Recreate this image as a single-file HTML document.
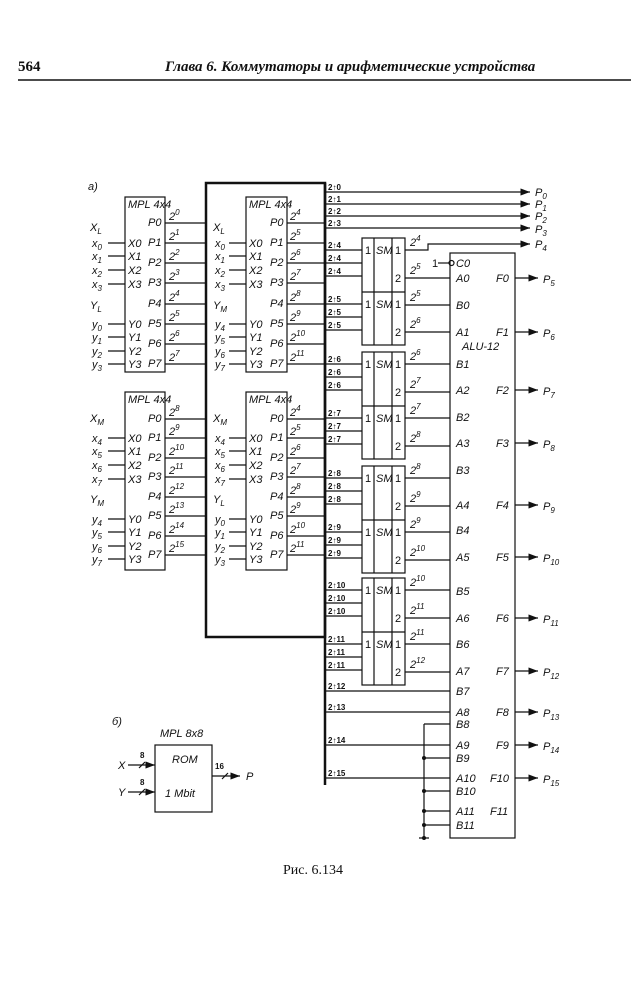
<!DOCTYPE html>
<html><head><meta charset="utf-8"><style>
html,body{margin:0;padding:0;background:#fff;}
svg{display:block;}
text{font-family:"Liberation Sans",sans-serif;font-size:11px;fill:#111;font-style:italic;}
.s{font-size:8px;font-weight:bold;font-style:normal;}
.h{font-family:"Liberation Serif","Noto Serif CJK SC",serif;font-size:15px;font-weight:bold;}
</style></head><body>
<svg width="631" height="1000" viewBox="0 0 631 1000" xmlns="http://www.w3.org/2000/svg">
<defs><marker id="a" markerWidth="8" markerHeight="6" refX="8" refY="3" orient="auto"><path d="M0,0 L8,3 L0,6 z" fill="#111"/></marker></defs>
<text x="18" y="71" class="h" style="font-style:normal">564</text>
<text x="165" y="71" class="h">Глава 6.  Коммутаторы и арифметические устройства</text>
<line x1="18" y1="80" x2="631" y2="80" stroke="#111" stroke-width="1.5"/>
<text x="88" y="190">а)</text>
<g stroke="#111" stroke-width="1.2" fill="none">
<rect x="125" y="197" width="40" height="175"/><rect x="246" y="197" width="41" height="175"/>
<rect x="125" y="392" width="40" height="178"/><rect x="246" y="392" width="41" height="178"/>
<rect x="206" y="183" width="119" height="454" stroke-width="2.5"/>
<line x1="325" y1="183" x2="325" y2="785" stroke-width="2.5"/>
<!-- input stubs -->
<path d="M108 243H125M108 256H125M108 270H125M108 284H125M108 324H125M108 337H125M108 351H125M108 364H125
M229 243H246M229 256H246M229 270H246M229 284H246M229 324H246M229 337H246M229 351H246M229 364H246
M108 438H125M108 451H125M108 465H125M108 479H125M108 519H125M108 532H125M108 546H125M108 559H125
M229 438H246M229 451H246M229 465H246M229 479H246M229 519H246M229 532H246M229 546H246M229 559H246"/>
<!-- output lines -->
<path d="M165 223H206M165 243H206M165 263H206M165 283H206M165 304H206M165 324H206M165 344H206M165 364H206
M287 223H325M287 243H325M287 263H325M287 283H325M287 304H325M287 324H325M287 344H325M287 364H325
M165 419H206M165 438H206M165 458H206M165 477H206M165 497H206M165 516H206M165 536H206M165 555H206
M287 419H325M287 438H325M287 458H325M287 477H325M287 497H325M287 516H325M287 536H325M287 555H325"/>
<!-- top bus to P0-P3 -->
<line x1="325" y1="192" x2="530" y2="192" marker-end="url(#a)"/>
<line x1="325" y1="204" x2="530" y2="204" marker-end="url(#a)"/>
<line x1="325" y1="216" x2="530" y2="216" marker-end="url(#a)"/>
<line x1="325" y1="228" x2="530" y2="228" marker-end="url(#a)"/>
<!-- SM boxes -->
<rect x="362" y="238" width="43" height="107"/><path d="M374 238V345M392 238V345M362 292H405"/>
<rect x="362" y="352" width="43" height="107"/><path d="M374 352V459M392 352V459M362 406H405"/>
<rect x="362" y="466" width="43" height="107"/><path d="M374 466V573M392 466V573M362 520H405"/>
<rect x="362" y="578" width="43" height="107"/><path d="M374 578V685M392 578V685M362 632H405"/>
<!-- SM inputs -->
<path d="M325 250H362M325 263H362M325 276H362M325 304H362M325 317H362M325 330H362
M325 364H362M325 377H362M325 390H362M325 418H362M325 431H362M325 444H362
M325 478H362M325 491H362M325 504H362M325 532H362M325 545H362M325 558H362
M325 590H362M325 603H362M325 616H362M325 644H362M325 657H362M325 670H362"/>
<!-- SM outputs -->
<path d="M405 250H428V244H530" marker-end="url(#a)"/>
<path d="M405 278H450M405 305H450M405 332H450M405 364H450M405 392H450M405 418H450M405 446H450
M405 478H450M405 506H450M405 532H450M405 560H450M405 590H450M405 618H450M405 644H450M405 672H450"/>
<!-- ALU -->
<rect x="450" y="253" width="65" height="585"/>
<path d="M438 263H449"/><circle cx="451.5" cy="263" r="2.5"/>
<path d="M325 691H450M325 712H450M325 745H450M325 778H450M424 724H450M424 724V838M424 758H450M424 791H450M424 811H450M424 825H450M419 838H429"/>
<line x1="515" y1="278" x2="538" y2="278" marker-end="url(#a)"/>
<line x1="515" y1="332" x2="538" y2="332" marker-end="url(#a)"/>
<line x1="515" y1="390" x2="538" y2="390" marker-end="url(#a)"/>
<line x1="515" y1="443" x2="538" y2="443" marker-end="url(#a)"/>
<line x1="515" y1="505" x2="538" y2="505" marker-end="url(#a)"/>
<line x1="515" y1="557" x2="538" y2="557" marker-end="url(#a)"/>
<line x1="515" y1="618" x2="538" y2="618" marker-end="url(#a)"/>
<line x1="515" y1="671" x2="538" y2="671" marker-end="url(#a)"/>
<line x1="515" y1="712" x2="538" y2="712" marker-end="url(#a)"/>
<line x1="515" y1="745" x2="538" y2="745" marker-end="url(#a)"/>
<line x1="515" y1="778" x2="538" y2="778" marker-end="url(#a)"/>
<!-- b) -->
<rect x="155" y="745" width="57" height="67"/>
<line x1="128" y1="765" x2="155" y2="765" marker-end="url(#a)"/>
<line x1="128" y1="792" x2="155" y2="792" marker-end="url(#a)"/>
<line x1="212" y1="776" x2="240" y2="776" marker-end="url(#a)"/>
<path d="M139 768L145 762M139 795L145 789M222 779L228 773"/>
</g>
<g fill="#111"><circle cx="424" cy="758" r="2"/><circle cx="424" cy="791" r="2"/><circle cx="424" cy="811" r="2"/><circle cx="424" cy="825" r="2"/><circle cx="424" cy="838" r="2"/></g>
<!-- box 1 texts -->
<g>
<text x="128" y="208" font-size="9">MPL 4x4</text>
<text x="90" y="231">X<tspan font-size="8" dy="3">L</tspan></text>
<text x="92" y="247">x<tspan font-size="8" dy="3">0</tspan></text><text x="92" y="260">x<tspan font-size="8" dy="3">1</tspan></text><text x="92" y="274">x<tspan font-size="8" dy="3">2</tspan></text><text x="92" y="288">x<tspan font-size="8" dy="3">3</tspan></text>
<text x="90" y="309">Y<tspan font-size="8" dy="3">L</tspan></text>
<text x="92" y="328">y<tspan font-size="8" dy="3">0</tspan></text><text x="92" y="341">y<tspan font-size="8" dy="3">1</tspan></text><text x="92" y="355">y<tspan font-size="8" dy="3">2</tspan></text><text x="92" y="368">y<tspan font-size="8" dy="3">3</tspan></text>
<text x="128" y="247">X0</text><text x="128" y="260">X1</text><text x="128" y="274">X2</text><text x="128" y="288">X3</text>
<text x="128" y="328">Y0</text><text x="128" y="341">Y1</text><text x="128" y="355">Y2</text><text x="128" y="368">Y3</text>
<text x="148" y="226">P0</text><text x="148" y="246">P1</text><text x="148" y="266">P2</text><text x="148" y="286">P3</text><text x="148" y="307">P4</text><text x="148" y="327">P5</text><text x="148" y="347">P6</text><text x="148" y="367">P7</text>
<text x="169" y="220">2<tspan font-size="8" dy="-5">0</tspan></text><text x="169" y="240">2<tspan font-size="8" dy="-5">1</tspan></text><text x="169" y="260">2<tspan font-size="8" dy="-5">2</tspan></text><text x="169" y="280">2<tspan font-size="8" dy="-5">3</tspan></text><text x="169" y="301">2<tspan font-size="8" dy="-5">4</tspan></text><text x="169" y="321">2<tspan font-size="8" dy="-5">5</tspan></text><text x="169" y="341">2<tspan font-size="8" dy="-5">6</tspan></text><text x="169" y="361">2<tspan font-size="8" dy="-5">7</tspan></text>
</g>
<!-- box 2 texts -->
<g>
<text x="249" y="208" font-size="9">MPL 4x4</text>
<text x="213" y="231">X<tspan font-size="8" dy="3">L</tspan></text>
<text x="215" y="247">x<tspan font-size="8" dy="3">0</tspan></text><text x="215" y="260">x<tspan font-size="8" dy="3">1</tspan></text><text x="215" y="274">x<tspan font-size="8" dy="3">2</tspan></text><text x="215" y="288">x<tspan font-size="8" dy="3">3</tspan></text>
<text x="213" y="309">Y<tspan font-size="8" dy="3">M</tspan></text>
<text x="215" y="328">y<tspan font-size="8" dy="3">4</tspan></text><text x="215" y="341">y<tspan font-size="8" dy="3">5</tspan></text><text x="215" y="355">y<tspan font-size="8" dy="3">6</tspan></text><text x="215" y="368">y<tspan font-size="8" dy="3">7</tspan></text>
<text x="249" y="247">X0</text><text x="249" y="260">X1</text><text x="249" y="274">X2</text><text x="249" y="288">X3</text>
<text x="249" y="328">Y0</text><text x="249" y="341">Y1</text><text x="249" y="355">Y2</text><text x="249" y="368">Y3</text>
<text x="270" y="226">P0</text><text x="270" y="246">P1</text><text x="270" y="266">P2</text><text x="270" y="286">P3</text><text x="270" y="307">P4</text><text x="270" y="327">P5</text><text x="270" y="347">P6</text><text x="270" y="367">P7</text>
<text x="290" y="220">2<tspan font-size="8" dy="-5">4</tspan></text><text x="290" y="240">2<tspan font-size="8" dy="-5">5</tspan></text><text x="290" y="260">2<tspan font-size="8" dy="-5">6</tspan></text><text x="290" y="280">2<tspan font-size="8" dy="-5">7</tspan></text><text x="290" y="301">2<tspan font-size="8" dy="-5">8</tspan></text><text x="290" y="321">2<tspan font-size="8" dy="-5">9</tspan></text><text x="290" y="341">2<tspan font-size="8" dy="-5">10</tspan></text><text x="290" y="361">2<tspan font-size="8" dy="-5">11</tspan></text>
</g>
<!-- box 3 texts -->
<g>
<text x="128" y="403" font-size="9">MPL 4x4</text>
<text x="90" y="422">X<tspan font-size="8" dy="3">M</tspan></text>
<text x="92" y="442">x<tspan font-size="8" dy="3">4</tspan></text><text x="92" y="455">x<tspan font-size="8" dy="3">5</tspan></text><text x="92" y="469">x<tspan font-size="8" dy="3">6</tspan></text><text x="92" y="483">x<tspan font-size="8" dy="3">7</tspan></text>
<text x="90" y="503">Y<tspan font-size="8" dy="3">M</tspan></text>
<text x="92" y="523">y<tspan font-size="8" dy="3">4</tspan></text><text x="92" y="536">y<tspan font-size="8" dy="3">5</tspan></text><text x="92" y="550">y<tspan font-size="8" dy="3">6</tspan></text><text x="92" y="563">y<tspan font-size="8" dy="3">7</tspan></text>
<text x="128" y="442">X0</text><text x="128" y="455">X1</text><text x="128" y="469">X2</text><text x="128" y="483">X3</text>
<text x="128" y="523">Y0</text><text x="128" y="536">Y1</text><text x="128" y="550">Y2</text><text x="128" y="563">Y3</text>
<text x="148" y="422">P0</text><text x="148" y="441">P1</text><text x="148" y="461">P2</text><text x="148" y="480">P3</text><text x="148" y="500">P4</text><text x="148" y="519">P5</text><text x="148" y="539">P6</text><text x="148" y="558">P7</text>
<text x="169" y="416">2<tspan font-size="8" dy="-5">8</tspan></text><text x="169" y="435">2<tspan font-size="8" dy="-5">9</tspan></text><text x="169" y="455">2<tspan font-size="8" dy="-5">10</tspan></text><text x="169" y="474">2<tspan font-size="8" dy="-5">11</tspan></text><text x="169" y="494">2<tspan font-size="8" dy="-5">12</tspan></text><text x="169" y="513">2<tspan font-size="8" dy="-5">13</tspan></text><text x="169" y="533">2<tspan font-size="8" dy="-5">14</tspan></text><text x="169" y="552">2<tspan font-size="8" dy="-5">15</tspan></text>
</g>
<!-- box 4 texts -->
<g>
<text x="249" y="403" font-size="9">MPL 4x4</text>
<text x="213" y="422">X<tspan font-size="8" dy="3">M</tspan></text>
<text x="215" y="442">x<tspan font-size="8" dy="3">4</tspan></text><text x="215" y="455">x<tspan font-size="8" dy="3">5</tspan></text><text x="215" y="469">x<tspan font-size="8" dy="3">6</tspan></text><text x="215" y="483">x<tspan font-size="8" dy="3">7</tspan></text>
<text x="213" y="503">Y<tspan font-size="8" dy="3">L</tspan></text>
<text x="215" y="523">y<tspan font-size="8" dy="3">0</tspan></text><text x="215" y="536">y<tspan font-size="8" dy="3">1</tspan></text><text x="215" y="550">y<tspan font-size="8" dy="3">2</tspan></text><text x="215" y="563">y<tspan font-size="8" dy="3">3</tspan></text>
<text x="249" y="442">X0</text><text x="249" y="455">X1</text><text x="249" y="469">X2</text><text x="249" y="483">X3</text>
<text x="249" y="523">Y0</text><text x="249" y="536">Y1</text><text x="249" y="550">Y2</text><text x="249" y="563">Y3</text>
<text x="270" y="422">P0</text><text x="270" y="441">P1</text><text x="270" y="461">P2</text><text x="270" y="480">P3</text><text x="270" y="500">P4</text><text x="270" y="519">P5</text><text x="270" y="539">P6</text><text x="270" y="558">P7</text>
<text x="290" y="416">2<tspan font-size="8" dy="-5">4</tspan></text><text x="290" y="435">2<tspan font-size="8" dy="-5">5</tspan></text><text x="290" y="455">2<tspan font-size="8" dy="-5">6</tspan></text><text x="290" y="474">2<tspan font-size="8" dy="-5">7</tspan></text><text x="290" y="494">2<tspan font-size="8" dy="-5">8</tspan></text><text x="290" y="513">2<tspan font-size="8" dy="-5">9</tspan></text><text x="290" y="533">2<tspan font-size="8" dy="-5">10</tspan></text><text x="290" y="552">2<tspan font-size="8" dy="-5">11</tspan></text>
</g>
<!-- bus labels -->
<g class="s">
<text class="s" x="328" y="190">2↑0</text><text class="s" x="328" y="202">2↑1</text><text class="s" x="328" y="214">2↑2</text><text class="s" x="328" y="226">2↑3</text>
<text class="s" x="328" y="248">2↑4</text><text class="s" x="328" y="261">2↑4</text><text class="s" x="328" y="274">2↑4</text>
<text class="s" x="328" y="302">2↑5</text><text class="s" x="328" y="315">2↑5</text><text class="s" x="328" y="328">2↑5</text>
<text class="s" x="328" y="362">2↑6</text><text class="s" x="328" y="375">2↑6</text><text class="s" x="328" y="388">2↑6</text>
<text class="s" x="328" y="416">2↑7</text><text class="s" x="328" y="429">2↑7</text><text class="s" x="328" y="442">2↑7</text>
<text class="s" x="328" y="476">2↑8</text><text class="s" x="328" y="489">2↑8</text><text class="s" x="328" y="502">2↑8</text>
<text class="s" x="328" y="530">2↑9</text><text class="s" x="328" y="543">2↑9</text><text class="s" x="328" y="556">2↑9</text>
<text class="s" x="328" y="588">2↑10</text><text class="s" x="328" y="601">2↑10</text><text class="s" x="328" y="614">2↑10</text>
<text class="s" x="328" y="642">2↑11</text><text class="s" x="328" y="655">2↑11</text><text class="s" x="328" y="668">2↑11</text>
<text class="s" x="328" y="689">2↑12</text><text class="s" x="328" y="710">2↑13</text><text class="s" x="328" y="743">2↑14</text><text class="s" x="328" y="776">2↑15</text>
</g>
<!-- SM texts -->
<g>
<text x="365" y="254" style="font-style:normal">1</text><text x="376" y="254">SM</text><text x="395" y="254" style="font-style:normal">1</text><text x="395" y="282" style="font-style:normal">2</text>
<text x="365" y="308" style="font-style:normal">1</text><text x="376" y="308">SM</text><text x="395" y="308" style="font-style:normal">1</text><text x="395" y="336" style="font-style:normal">2</text>
<text x="365" y="368" style="font-style:normal">1</text><text x="376" y="368">SM</text><text x="395" y="368" style="font-style:normal">1</text><text x="395" y="396" style="font-style:normal">2</text>
<text x="365" y="422" style="font-style:normal">1</text><text x="376" y="422">SM</text><text x="395" y="422" style="font-style:normal">1</text><text x="395" y="450" style="font-style:normal">2</text>
<text x="365" y="482" style="font-style:normal">1</text><text x="376" y="482">SM</text><text x="395" y="482" style="font-style:normal">1</text><text x="395" y="510" style="font-style:normal">2</text>
<text x="365" y="536" style="font-style:normal">1</text><text x="376" y="536">SM</text><text x="395" y="536" style="font-style:normal">1</text><text x="395" y="564" style="font-style:normal">2</text>
<text x="365" y="594" style="font-style:normal">1</text><text x="376" y="594">SM</text><text x="395" y="594" style="font-style:normal">1</text><text x="395" y="622" style="font-style:normal">2</text>
<text x="365" y="648" style="font-style:normal">1</text><text x="376" y="648">SM</text><text x="395" y="648" style="font-style:normal">1</text><text x="395" y="676" style="font-style:normal">2</text>
<text x="410" y="246">2<tspan font-size="8" dy="-5">4</tspan></text><text x="410" y="274">2<tspan font-size="8" dy="-5">5</tspan></text>
<text x="410" y="301">2<tspan font-size="8" dy="-5">5</tspan></text><text x="410" y="328">2<tspan font-size="8" dy="-5">6</tspan></text>
<text x="410" y="360">2<tspan font-size="8" dy="-5">6</tspan></text><text x="410" y="388">2<tspan font-size="8" dy="-5">7</tspan></text>
<text x="410" y="414">2<tspan font-size="8" dy="-5">7</tspan></text><text x="410" y="442">2<tspan font-size="8" dy="-5">8</tspan></text>
<text x="410" y="474">2<tspan font-size="8" dy="-5">8</tspan></text><text x="410" y="502">2<tspan font-size="8" dy="-5">9</tspan></text>
<text x="410" y="528">2<tspan font-size="8" dy="-5">9</tspan></text><text x="410" y="556">2<tspan font-size="8" dy="-5">10</tspan></text>
<text x="410" y="586">2<tspan font-size="8" dy="-5">10</tspan></text><text x="410" y="614">2<tspan font-size="8" dy="-5">11</tspan></text>
<text x="410" y="640">2<tspan font-size="8" dy="-5">11</tspan></text><text x="410" y="668">2<tspan font-size="8" dy="-5">12</tspan></text>
</g>
<!-- P labels top -->
<g>
<text x="535" y="196">P<tspan font-size="8" dy="3">0</tspan></text><text x="535" y="208">P<tspan font-size="8" dy="3">1</tspan></text><text x="535" y="220">P<tspan font-size="8" dy="3">2</tspan></text><text x="535" y="233">P<tspan font-size="8" dy="3">3</tspan></text><text x="535" y="248">P<tspan font-size="8" dy="3">4</tspan></text>
<text x="432" y="267" style="font-style:normal">1</text>
</g>
<!-- ALU texts -->
<g>
<text x="456" y="267">C0</text><text x="456" y="282">A0</text><text x="456" y="309">B0</text><text x="456" y="336">A1</text><text x="462" y="350">ALU-12</text>
<text x="456" y="368">B1</text><text x="456" y="394">A2</text><text x="456" y="421">B2</text><text x="456" y="447">A3</text>
<text x="456" y="474">B3</text><text x="456" y="509">A4</text><text x="456" y="534">B4</text><text x="456" y="561">A5</text>
<text x="456" y="595">B5</text><text x="456" y="622">A6</text><text x="456" y="648">B6</text><text x="456" y="675">A7</text>
<text x="456" y="695">B7</text><text x="456" y="716">A8</text><text x="456" y="728">B8</text><text x="456" y="749">A9</text>
<text x="456" y="762">B9</text><text x="456" y="782">A10</text><text x="456" y="795">B10</text><text x="456" y="815">A11</text><text x="456" y="829">B11</text>
<text x="496" y="282">F0</text><text x="496" y="336">F1</text><text x="496" y="394">F2</text><text x="496" y="447">F3</text>
<text x="496" y="509">F4</text><text x="496" y="561">F5</text><text x="496" y="622">F6</text><text x="496" y="675">F7</text>
<text x="496" y="716">F8</text><text x="496" y="749">F9</text><text x="490" y="782">F10</text><text x="490" y="815">F11</text>
<text x="543" y="283">P<tspan font-size="8" dy="3">5</tspan></text><text x="543" y="337">P<tspan font-size="8" dy="3">6</tspan></text><text x="543" y="395">P<tspan font-size="8" dy="3">7</tspan></text><text x="543" y="448">P<tspan font-size="8" dy="3">8</tspan></text>
<text x="543" y="510">P<tspan font-size="8" dy="3">9</tspan></text><text x="543" y="562">P<tspan font-size="8" dy="3">10</tspan></text><text x="543" y="623">P<tspan font-size="8" dy="3">11</tspan></text><text x="543" y="676">P<tspan font-size="8" dy="3">12</tspan></text>
<text x="543" y="717">P<tspan font-size="8" dy="3">13</tspan></text><text x="543" y="750">P<tspan font-size="8" dy="3">14</tspan></text><text x="543" y="783">P<tspan font-size="8" dy="3">15</tspan></text>
</g>
<!-- b) texts -->
<g>
<text x="112" y="725">б)</text>
<text x="160" y="737" font-size="10">MPL 8x8</text>
<text x="172" y="763" font-size="10">ROM</text>
<text x="165" y="797" font-size="10">1 Mbit</text>
<text x="118" y="769">X</text><text x="118" y="796">Y</text>
<text class="s" x="140" y="758">8</text><text class="s" x="140" y="785">8</text><text class="s" x="215" y="769">16</text>
<text x="246" y="780">P</text>
</g>
<text x="283" y="874" style="font-family:'Liberation Serif',serif;font-style:normal;font-size:14px">Рис. 6.134</text>
</svg>
</body></html>
